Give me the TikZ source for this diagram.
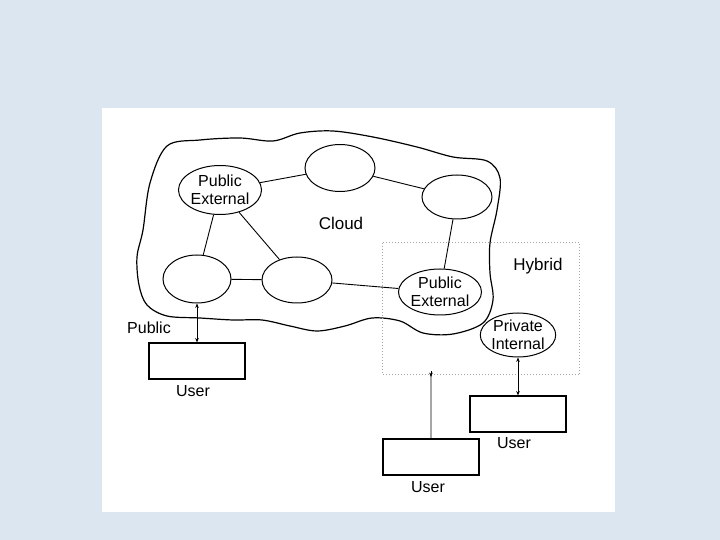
\documentclass[tikz,border=0pt]{standalone}
\usepackage{fontspec}
\setmainfont{Liberation Sans}
\usetikzlibrary{shapes.geometric,arrows.meta}
\definecolor{bgblue}{HTML}{DCE6F1}
\tikzset{
  ell/.style={draw, ellipse, line width=0.5pt, inner sep=0pt, font=\fontsize{8}{9}\selectfont, align=center},
  userbox/.style={draw, rectangle, line width=0.6pt, minimum width=48pt, minimum height=18pt, inner sep=0pt},
  lbl/.style={font=\fontsize{8}{9}\selectfont, inner sep=0pt},
  biglbl/.style={font=\fontsize{8.5}{10}\selectfont, inner sep=0pt},
  link/.style={line width=0.45pt},
  dbl/.style={line width=0.45pt, {Stealth[length=2.2pt,width=1.8pt]}-{Stealth[length=2.2pt,width=1.8pt]}}
}
\begin{document}
\begin{tikzpicture}[x=0.5pt,y=-0.5pt]
\useasboundingbox (0,0) rectangle (720,540);
\fill[bgblue] (0,0) rectangle (720,540);
\fill[white] (102,108) rectangle (615,512);

% cloud outline
\draw[line width=0.6pt] plot[smooth cycle, tension=0.55] coordinates {
 (150,183) (167,146) (200,140) (240,138) (273,141) (300,133) (333,131)
 (373,137) (417,147) (453,157) (487,161) (500,178) (497,210) (490,243)
 (490,273) (493,300) (483,323) (453,334) (423,333) (400,321) (372,318)
 (345,326) (317,331) (290,326) (262,320) (233,320) (200,318) (167,316)
 (147,305) (139,285) (137,257) (143,230)};

% hybrid region
\draw[gray!70, densely dotted, line width=0.5pt] (383,243) rectangle (580,375);
\coordinate (hyb) at (431,377);

% ellipses
\node[ell, minimum width=31pt, minimum height=24.5pt] (pe1) at (220,190) {Public\\External};
\node[ell, minimum width=35pt, minimum height=23.5pt] (top) at (340,168) {};
\node[ell, minimum width=35pt, minimum height=22pt] (rt) at (457,197) {};
\node[ell, minimum width=34pt, minimum height=24pt] (bl) at (197,279) {};
\node[ell, minimum width=35pt, minimum height=23pt] (mid) at (297,280) {};
\node[ell, minimum width=34pt, minimum height=23pt] (pe2) at (440,292) {Public\\External};
\node[ell, minimum width=35pt, minimum height=22pt] (pi) at (518,335) {Private\\Internal};

% links
\draw[link] (pe1) -- (top);
\draw[link] (top) -- (rt);
\draw[link] (rt) -- (pe2);
\draw[link] (pe1) -- (bl);
\draw[link] (pe1) -- (mid);
\draw[link] (bl) -- (mid);
\draw[link] (mid) -- (pe2);

% labels
\node[biglbl] (cloud) at (341,223) {Cloud};
\node[biglbl] (hybrid) at (538,266) {Hybrid};
\node[lbl] (public) at (149,328) {Public};

% users
\node[userbox] (u1) at (197,361) {};
\node[lbl] (u1l) at (193,391) {User};
\node[userbox] (u2) at (431,457) {};
\node[lbl] (u2l) at (428,487) {User};
\node[userbox] (u3) at (518,414) {};
\node[lbl] (u3l) at (514,443) {User};

% arrows
\draw[dbl] (bl.south) -- (u1.north);
\draw[dbl] (pi.south) -- (u3.north);
\draw[gray!70, line width=0.9pt] (u2.north) -- ([yshift=2pt]hyb);
\draw[line width=0.4pt, -{Stealth[length=2.2pt,width=1.8pt]}] ([yshift=3pt]hyb) -- (hyb);
\end{tikzpicture}
\end{document}
